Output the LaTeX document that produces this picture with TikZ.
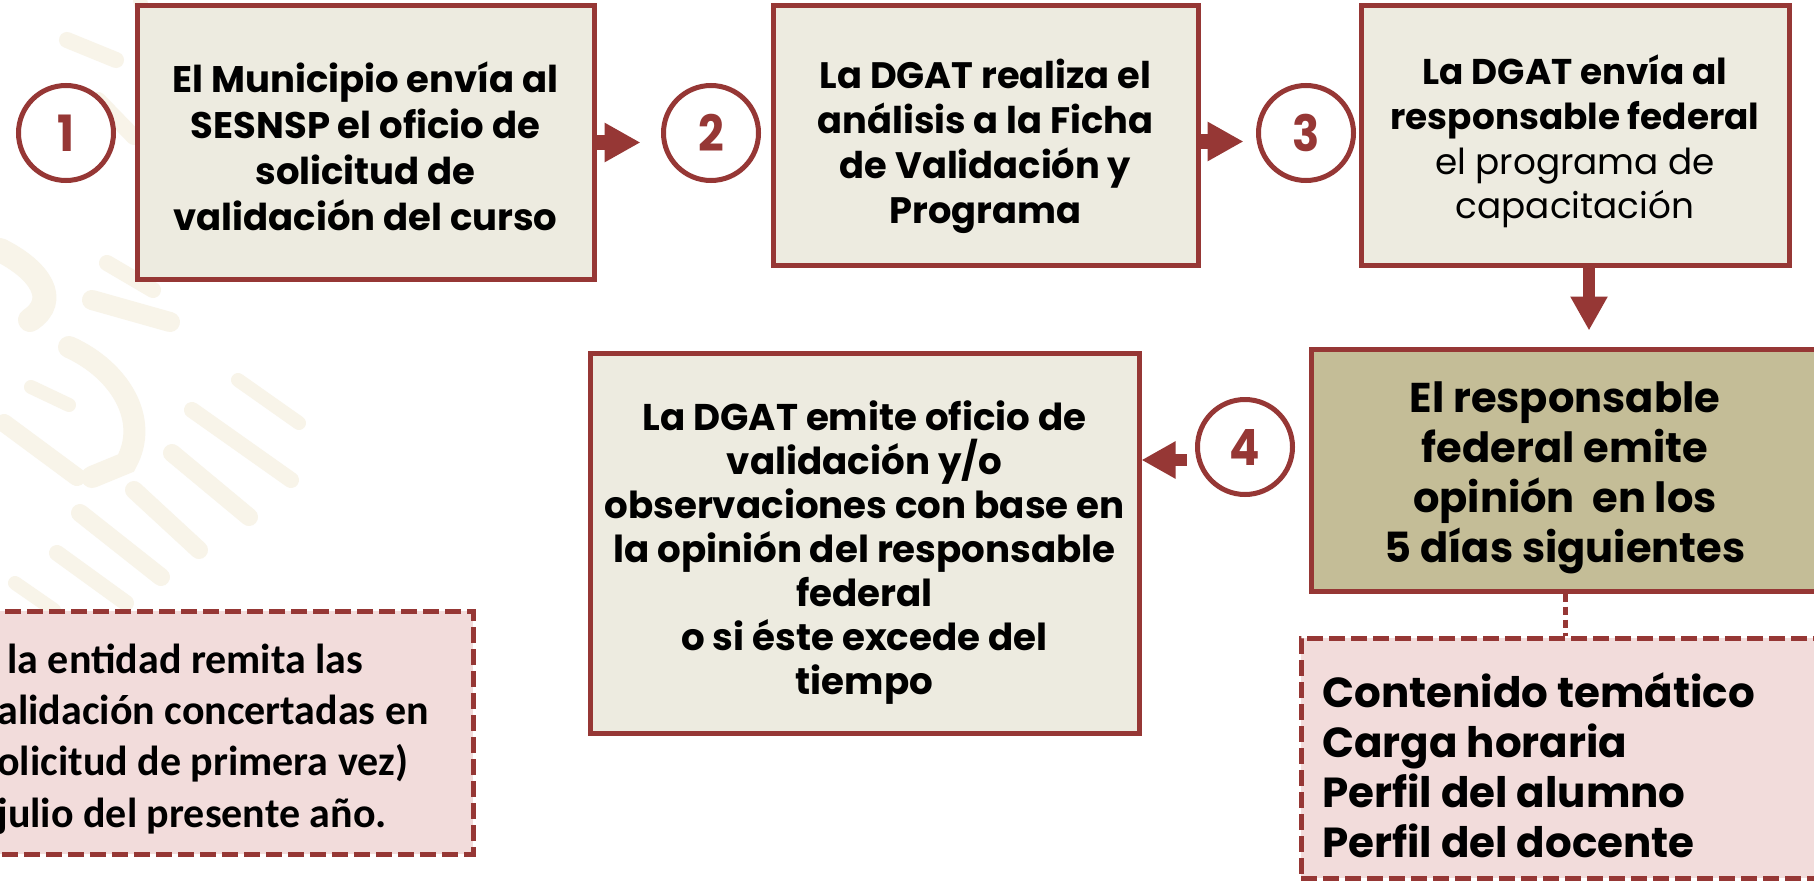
\documentclass[tikz,border=0pt]{standalone}
\usepackage{fontspec}
\usetikzlibrary{arrows.meta,calc}
\newfontfamily\pop{Poppins}
\newfontfamily\popc{Poppins}[FakeStretch=0.9]
\newfontfamily\carl{Carlito}
\definecolor{brd}{RGB}{150,55,53}
\definecolor{boxfill}{RGB}{237,235,224}
\definecolor{khaki}{RGB}{196,189,151}
\definecolor{pinkfill}{RGB}{242,220,219}
\definecolor{wmc}{RGB}{248,244,233}
\tikzset{
  stepbox/.style={draw=brd, line width=2.5pt, fill=boxfill, inner sep=0pt},
  steptext/.style={align=center, inner sep=0pt},
  numcirc/.style={circle, draw=brd, line width=2.5pt, fill=white, minimum size=47.5pt, inner sep=0pt, text=brd, font=\popc\bfseries\fontsize{25}{28}\selectfont},
  fatarrow/.style={draw=brd, line width=7pt, -{Triangle[length=18pt,width=18.5pt]}},
  thinarrow/.style={draw=brd, line width=6pt, -{Triangle[length=17pt,width=17.5pt]}},
  notebox/.style={draw=brd, line width=2.5pt, fill=pinkfill, dash pattern=on 8pt off 3pt, inner sep=0pt},
  wm/.style={draw=wmc, line width=8pt, line cap=round}
}
\begin{document}
\begin{tikzpicture}[x=0.5pt,y=-0.5pt]
\clip (0,0) rectangle (1814,883);
\fill[white] (0,0) rectangle (1814,883);
% faint watermark
\draw[wm] (107,263) -- (153,290);
\draw[wm,line width=10pt] (92,300) -- (170,322);
\draw[wm,line width=11pt] (69,347) .. controls (120,370) and (150,420) .. (126,463) -- (92,477);
\draw[wm,line width=7pt] (31,387) -- (69,405);
\draw[wm,line width=9pt] (4,423) -- (77,477);
\draw[wm] (192,410) -- (291,480);
\draw[wm,line width=9pt] (172,453) -- (249,517);
\draw[wm,line width=9pt] (134,490) -- (199,550);
\draw[wm,line width=9pt] (80,513) -- (161,577);
\draw[wm] (57,553) -- (126,603);
\draw[wm,line width=7pt] (15,583) -- (54,610);
\draw[wm,line width=7pt] (238,380) -- (299,423);
\draw[wm] (67,40) -- (116,60);
\draw[wm] (98,100) -- (134,137);
\draw[wm,line width=7pt] (140,0) -- (150,40);
\draw[wm,line width=12pt] (0,250) .. controls (40,270) and (60,300) .. (30,320);

% step boxes
\node[stepbox, minimum width=228.5pt, minimum height=136.5pt] (b1) at (365.5,142.5) {};
\node[steptext, font=\pop\bfseries\fontsize{18.5}{23}\selectfont] (b1t) at ([yshift=-2pt]b1.center)
  {El Municipio envía al\\SESNSP el oficio de\\solicitud de\\validación del curso};
\node[stepbox, minimum width=212.5pt, minimum height=129.5pt] (b2) at (985.5,135.5) {};
\node[steptext, font=\pop\bfseries\fontsize{18.4}{22.5}\selectfont] (b2t) at ([yshift=-5.5pt]b2.center)
  {La DGAT realiza el\\análisis a la Ficha\\de Validación y\\Programa};
\node[stepbox, minimum width=214pt, minimum height=129.5pt] (b3) at (1575,135.5) {};
\node[steptext, font=\pop\fontsize{17.9}{22.4}\selectfont] (b3t) at ([yshift=-3pt]b3.center)
  {\textbf{La DGAT envía al}\\\textbf{responsable federal}\\el programa de\\capacitación};
\node[stepbox, fill=khaki, minimum width=254pt, minimum height=121pt] (b4) at (1565,470) {};
\node[steptext, font=\pop\bfseries\fontsize{20.8}{25}\selectfont] (b4t) at ([yshift=-4pt]b4.center)
  {El responsable\\federal emite\\opinión\ \ en los\\5 días siguientes};
\node[stepbox, minimum width=274.5pt, minimum height=190pt] (b5) at (864.5,543) {};
\node[steptext, font=\pop\bfseries\fontsize{18.6}{22}\selectfont] (b5t) at ([yshift=-5pt]b5.center)
  {La DGAT emite oficio de\\validación y/o\\observaciones con base en\\la opinión del responsable\\federal\\o si éste excede del\\tiempo};

% number circles
\node[numcirc] (c1) at (66,133) {1};
\node[numcirc] (c2) at (711,133) {2};
\node[numcirc] (c3) at (1306,133) {3};
\node[numcirc] (c4) at (1245,447) {4};

% note boxes
\node[notebox, minimum width=246.5pt, minimum height=121.5pt] (n1) at (226.5,732.5) {};
\node[anchor=west, align=left, inner sep=0pt,
  font=\carl\bfseries\fontsize{21}{25.7}\selectfont] (n1t) at (-3,739)
  {\hspace{5pt}la entidad remita las\\alidación concertadas en\\olicitud de primera vez)\\julio del presente año.};
\node[notebox, minimum width=264.5pt, minimum height=120pt] (n2) at (1565.5,758) {};
\node[anchor=west, align=left, inner sep=0pt,
  font=\pop\bfseries\fontsize{21}{25}\selectfont] (n2t) at (1322,765)
  {Contenido temático\\Carga horaria\\Perfil del alumno\\Perfil del docente};

% connectors
\draw[fatarrow, shorten >=10.25pt] (b1.east) -- (b1.east -| c2.west);
\draw[fatarrow, shorten >=6.25pt] ([yshift=-3pt]b2.east) -- ([yshift=-3pt]b2.east -| c3.west);
\draw[thinarrow, shorten >=8pt] ([xshift=7pt]b3.south) -- ([xshift=7pt]b3.south |- b4.north);
\draw[thinarrow, shorten <=4.25pt] ([yshift=-6.5pt]c4.west) -- ([yshift=-6.5pt]c4.west -| b5.east);
\draw[draw=brd, line width=2.5pt, dash pattern=on 4pt off 2.5pt] (b4.south) -- (b4.south |- n2.north);
\end{tikzpicture}
\end{document}
